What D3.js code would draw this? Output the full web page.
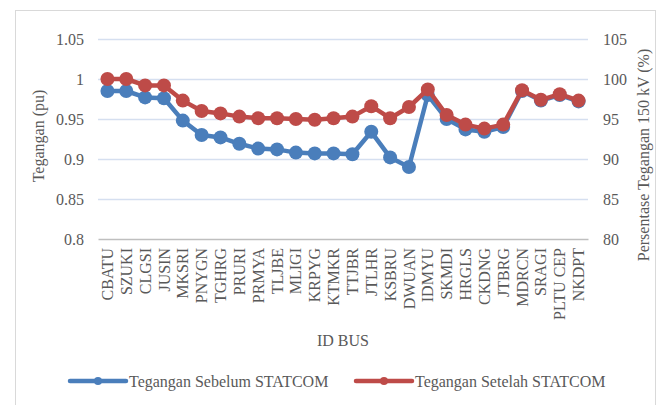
<!DOCTYPE html>
<html>
<head>
<meta charset="utf-8">
<script src="https://cdn.jsdelivr.net/npm/d3@7"></script>
<style>
    body { margin: 0; background: #fff; }
</style>
</head>
<body>
<div id="chart"></div>
<script>
// bus names along the x axis
var buses = ["CBATU", "SZUKI", "CLGSI", "JUSIN", "MKSRI", "PNYGN", "TGHRG", "PRURI", "PRMYA", "TLJBE",
    "MLIGI", "KRPYG", "KTMKR", "TTJBR", "JTLHR", "KSBRU", "DWUAN", "IDMYU", "SKMDI", "HRGLS",
    "CKDNG", "JTBRG", "MDRCN", "SRAGI", "PLTU CEP", "NKDPT"];

// voltage before STATCOM (pu, left axis)
var sebelum = [0.985, 0.985, 0.977, 0.976, 0.948, 0.930, 0.927, 0.919, 0.913, 0.912,
    0.908, 0.907, 0.907, 0.906, 0.934, 0.902, 0.890, 0.980, 0.950, 0.937,
    0.934, 0.940, 0.985, 0.973, 0.980, 0.972];

// voltage after STATCOM (% of 150 kV, right axis)
var setelah = [100.0, 100.0, 99.2, 99.2, 97.3, 96.0, 95.7, 95.3, 95.1, 95.1,
    95.0, 94.9, 95.1, 95.3, 96.6, 95.1, 96.5, 98.7, 95.5, 94.3,
    93.8, 94.3, 98.6, 97.4, 98.1, 97.3];

var leftTicks = [0.8, 0.85, 0.9, 0.95, 1, 1.05];
var rightTicks = [80, 85, 90, 95, 100, 105];

var seriesNames = ["Tegangan Sebelum STATCOM", "Tegangan Setelah STATCOM"];
var colors = ["#4a7ebb", "#be4b48"];

var FONT = "'Liberation Serif', 'Times New Roman', serif";
var W = 662, H = 405;
var margin = { top: 39, right: 74, bottom: 166, left: 98 },
    width = W - margin.left - margin.right,
    height = H - margin.top - margin.bottom;

var svg = d3.select("#chart").append("svg")
    .attr("width", W)
    .attr("height", H);

// outer chart border
svg.append("rect")
    .attr("x", 15.5).attr("y", 10.5)
    .attr("width", 640).attr("height", 400)
    .attr("fill", "none")
    .attr("stroke", "#d9d9d9");

var g = svg.append("g")
    .attr("transform", "translate(" + margin.left + "," + margin.top + ")");

var x = d3.scaleBand().domain(buses).range([0, width]);
var yL = d3.scaleLinear().domain([0.8, 1.05]).range([height, 0]);
var yR = d3.scaleLinear().domain([80, 105]).range([height, 0]);

// gridlines
g.append("g")
    .selectAll("line")
    .data(leftTicks.slice(1))
    .join("line")
    .attr("x1", 0).attr("x2", width)
    .attr("y1", function (d) { return Math.round(yL(d)) + 0.5; })
    .attr("y2", function (d) { return Math.round(yL(d)) + 0.5; })
    .attr("stroke", "#d5dff0")
    .attr("stroke-width", 1.5);

// left axis
var axL = g.append("g")
    .call(d3.axisLeft(yL).tickValues(leftTicks).tickSize(0).tickPadding(14)
        .tickFormat(function (d) { return d3.format("")(d); }));
axL.select(".domain").remove();

// right axis
var axR = g.append("g")
    .attr("transform", "translate(" + width + ",0)")
    .call(d3.axisRight(yR).tickValues(rightTicks).tickSize(0).tickPadding(15));
axR.select(".domain").remove();

// bottom axis
var axB = g.append("g")
    .attr("transform", "translate(0," + height + ")")
    .call(d3.axisBottom(x).tickSize(0));
axB.select(".domain").attr("stroke", "#bfbfbf").attr("stroke-width", 1.5);
axB.selectAll("text")
    .attr("text-anchor", "end")
    .attr("dy", "0.35em")
    .attr("transform", "translate(0,9) rotate(-90)")
    .attr("x", 0).attr("y", 0);

// axis titles
svg.append("text")
    .attr("transform", "translate(38,136) rotate(-90)")
    .attr("text-anchor", "middle")
    .attr("dy", "0.35em")
    .text("Tegangan (pu)");

svg.append("text")
    .attr("transform", "translate(643,155) rotate(-90)")
    .attr("text-anchor", "middle")
    .attr("dy", "0.35em")
    .text("Persentase Tegangan 150 kV (%)");

svg.append("text")
    .attr("x", margin.left + width / 2)
    .attr("y", 340)
    .attr("text-anchor", "middle")
    .attr("dy", "0.35em")
    .text("ID BUS");

var cx = function (d, i) { return x(buses[i]) + x.bandwidth() / 2; };

var series = [
    { vals: sebelum, y: yL, color: colors[0] },
    { vals: setelah, y: yR, color: colors[1] }
];

series.forEach(function (s) {
    g.append("path")
        .datum(s.vals)
        .attr("fill", "none")
        .attr("stroke", s.color)
        .attr("stroke-width", 4.5)
        .attr("stroke-linejoin", "round")
        .attr("d", d3.line()
            .x(cx)
            .y(function (d) { return s.y(d); }));

    g.append("g")
        .selectAll("circle")
        .data(s.vals)
        .join("circle")
        .attr("cx", cx)
        .attr("cy", function (d) { return s.y(d); })
        .attr("r", 7)
        .attr("fill", s.color);
});

// legend
var legX = [70, 356];
seriesNames.forEach(function (name, i) {
    var lg = svg.append("g").attr("transform", "translate(" + legX[i] + ",381)");
    lg.append("line")
        .attr("x1", 0).attr("x2", 56)
        .attr("stroke", colors[i])
        .attr("stroke-width", 4.5)
        .attr("stroke-linecap", "round");
    lg.append("circle")
        .attr("cx", 28).attr("r", 4)
        .attr("fill", colors[i]);
    lg.append("text")
        .attr("x", 59)
        .attr("dy", "0.35em")
        .text(name);
});

// all texts in Times-like serif, grey
svg.selectAll("text")
    .style("font-family", FONT)
    .style("font-size", "16px")
    .attr("fill", "#595959");
</script>
</body>
</html>
